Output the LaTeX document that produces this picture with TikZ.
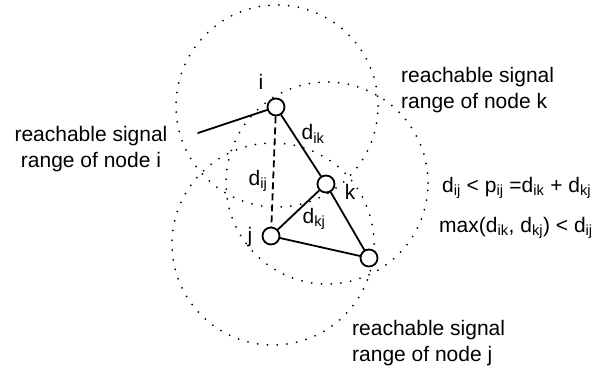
\documentclass[tikz,border=0pt]{standalone}
\usepackage{fontspec}
\setmainfont{Liberation Sans}
\begin{document}
\begin{tikzpicture}[x=1pt, y=-1pt, line cap=round, line join=round,
    font=\fontsize{21}{25.5}\selectfont]
    \tikzset{
      sigrange/.style={line width=2pt, dash pattern=on 0pt off 9.8pt},
      station/.style={circle, draw, fill=white, line width=1.8pt, minimum size=17pt, inner sep=0pt},
      link/.style={line width=1.8pt},
      caption/.style={inner sep=0pt}
    }
    \useasboundingbox (0,0) rectangle (611,371);

    % parameters
    \def\R{101pt}

    % signal ranges of i, k and j
    \draw[sigrange] (277,106) circle (\R);
    \draw[sigrange] (327,183) circle (\R);
    \draw[sigrange] (273,244) circle (\R);

    % nodes
    \node[station] (i) at (276,107) {};
    \node[station] (k) at (326,184) {};
    \node[station] (j) at (271,236) {};
    \node[station] (m) at (369,258) {};

    \node[caption] (li) at (261,82) {i};
    \node[caption] (lk) at (350,192) {k};
    \node[caption] (lj) at (250,237) {j};

    % links
    \draw[link] (i) -- (k);
    \draw[link] (k) -- (j);
    \draw[link] (k) -- (m);
    \draw[link] (j) -- (m);
    \draw[link, dash pattern=on 7pt off 4pt, line cap=butt] (i) -- (j);

    \node[caption] (dik) at (313,134) {d\textsubscript{ik}};
    \node[caption] (dij) at (258,181) {d\textsubscript{ij}};
    \node[caption] (dkj) at (314,219) {d\textsubscript{kj}};

    % leader from the label of node i
    \coordinate (lead) at (198,133);
    \draw[link] (lead) -- (i);

    % captions
    \node[caption, align=center] (ri) at (91,149) {reachable signal\\range of node i};
    \node[caption, align=left, anchor=west] (rk) at (401,90) {reachable signal\\range of node k};
    \node[caption, align=left, anchor=west] (rj) at (352,343) {reachable signal\\range of node j};

    % relations
    \node[caption, anchor=west] (eq1) at (442,188)
      {d\textsubscript{ij} < p\textsubscript{ij} =d\textsubscript{ik} + d\textsubscript{kj}};
    \node[caption, anchor=west] (eq2) at (439,228)
      {max(d\textsubscript{ik}, d\textsubscript{kj}) < d\textsubscript{ij}};
  \end{tikzpicture}
\end{document}
